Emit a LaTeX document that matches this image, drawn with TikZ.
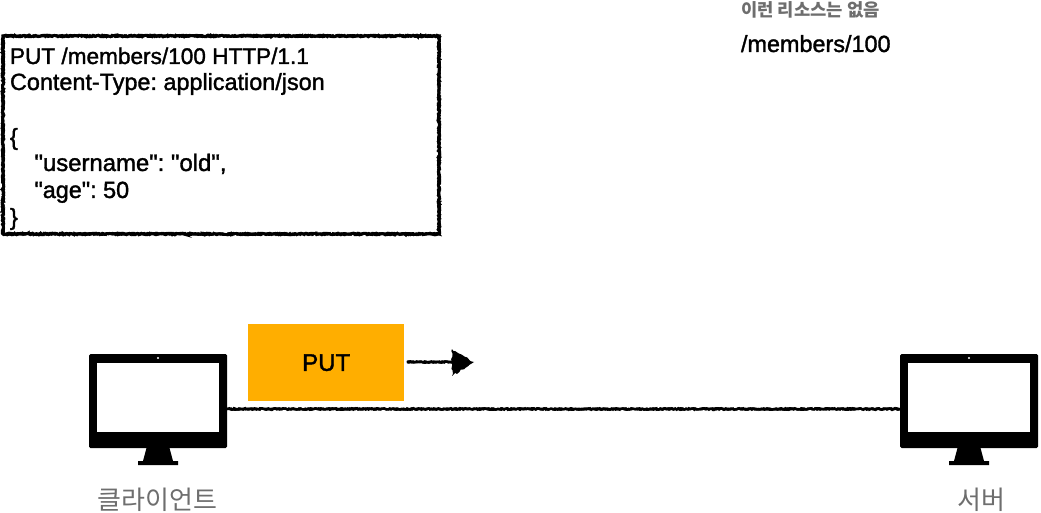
\documentclass[tikz,border=0pt]{standalone}
\usepackage{fontspec}
\setmainfont{Liberation Sans}
\newfontfamily\med[FakeBold=1.5]{Liberation Sans}
\newfontfamily\kr{Noto Sans CJK KR}
\usetikzlibrary{decorations.pathmorphing,arrows.meta}
\definecolor{lab}{HTML}{6E6E6E}
\definecolor{putc}{HTML}{FFAE00}
\newcommand{\qq}{\symbol{34}}
\tikzset{
  x=1pt,y=-1pt,
  rough/.style={draw=black,line width=2.6pt,decorate,decoration={random steps,segment length=1.6pt,amplitude=0.9pt}},
  txt/.style={inner sep=0pt,outer sep=0pt,anchor=base west,font=\med\frenchspacing\fontsize{23.4}{27}\selectfont,text=black},
  monbody/.style={fill=black,rounded corners=1.5pt,minimum width=138pt,minimum height=94pt,inner sep=0pt,outer sep=0pt,anchor=north west},
  monscreen/.style={fill=white,minimum width=122.5pt,minimum height=69.5pt,inner sep=0pt,anchor=north west},
  lbl/.style={inner sep=0pt,text=lab,font=\kr\fontsize{26}{26}\selectfont}
}
\newcommand{\monitor}[3]{%
  \node[monbody] (#3) at (#1,#2) {};
  \node[monscreen] (#3s) at (#1+7.7,#2+8.5) {};
  \fill[white] (#1+69,#2+4) circle (1.1);
  \fill[black] (#1+57.5,#2+94) -- (#1+80.5,#2+94) -- (#1+84,#2+107) -- (#1+89,#2+107) -- (#1+89,#2+111) -- (#1+49,#2+111) -- (#1+49,#2+107) -- (#1+54,#2+107) -- cycle;
}
\begin{document}
\begin{tikzpicture}
\useasboundingbox (0,0) rectangle (1041,513);
\pgfmathsetseed{7}
% request box
\node[inner sep=0pt,outer sep=0pt,minimum width=436pt,minimum height=198pt,anchor=north west] (req) at (3,36) {};
\foreach \i in {1,2,3}{\draw[rough] (3,36) rectangle (439,234);}
\node[txt,font=\med\frenchspacing\fontsize{22.6}{27}\selectfont] (t1) at (10,64) {PUT /members/100 HTTP/1.1};
\node[txt] (t2) at (10,90) {Content-Type: application/json};
\node[txt] (t3) at (10,145) {\{};
\node[txt,font=\med\frenchspacing\fontsize{23.9}{27}\selectfont] (t4) at (34.5,171) {\qq username\qq: \qq old\qq,};
\node[txt] (t5) at (34.5,198) {\qq age\qq: 50};
\node[txt] (t6) at (10,225) {\}};
% resource
\node[inner sep=0pt,anchor=base west,text=lab,font=\kr\bfseries\fontsize{17.7}{18}\selectfont] (nores) at (741,17) {이런 리소스는 없음};
\node[txt] (path) at (741,52) {/members/100};
% monitors
\monitor{89}{354}{client}
\monitor{900}{354}{server}
\foreach \i in {1,2,3}{\draw[rough,line width=2.2pt,decoration={random steps,segment length=1.6pt,amplitude=0.8pt}] (client.east |- 0,409) -- (server.west |- 0,409);}
% PUT box
\node[fill=putc,minimum width=156pt,minimum height=77pt,inner sep=0pt,anchor=north west,font=\med\fontsize{24}{24}\selectfont] (put) at (248,324) {PUT};
\coordinate (tipstart) at (407,362);
\coordinate (tipbase) at (454,362);
\coordinate (tip) at (474,362);
\foreach \i in {1,2,3}{\draw[rough,line width=2.2pt,decoration={random steps,segment length=1.6pt,amplitude=0.7pt}] (tipstart) -- (tipbase);}
\fill[black,decorate,decoration={random steps,segment length=2.5pt,amplitude=1pt}] (452,349) -- (tip) -- (452,376) -- cycle;
% labels
\node[lbl] (cl) at (157.5,500) {클라이언트};
\node[lbl] (sv) at (981,500) {서버};
\end{tikzpicture}
\end{document}
